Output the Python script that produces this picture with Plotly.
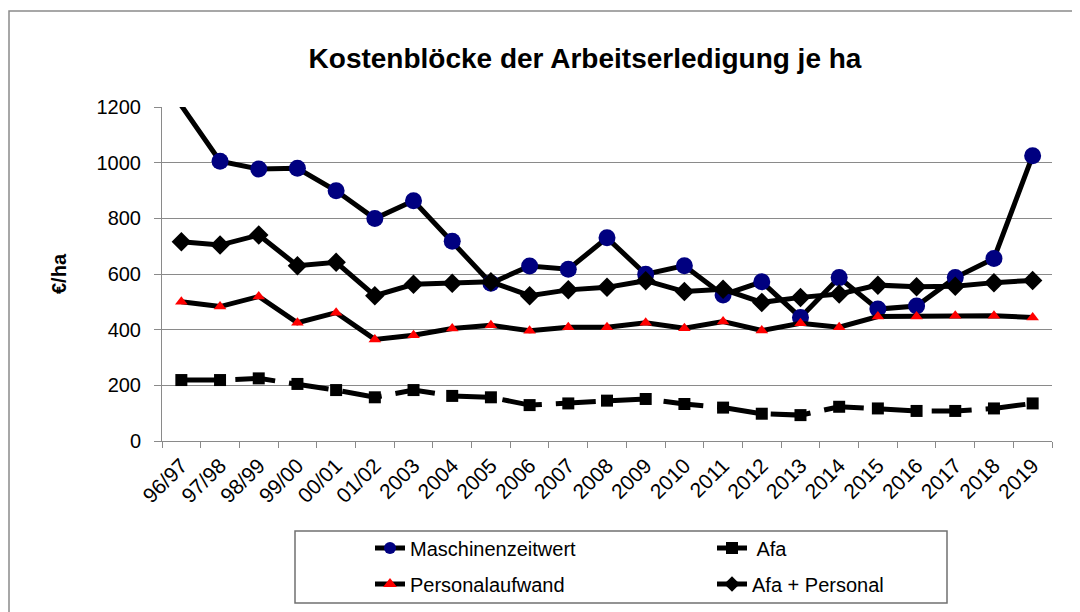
import plotly.graph_objects as go

categories = ["96/97", "97/98", "98/99", "99/00", "00/01", "01/02", "2003", "2004",
              "2005", "2006", "2007", "2008", "2009", "2010", "2011", "2012", "2013",
              "2014", "2015", "2016", "2017", "2018", "2019"]
maschinenzeitwert = [1205, 1005, 977, 980, 899, 799, 863, 718, 567, 629, 617, 730, 599,
                     630, 525, 572, 444, 587, 474, 485, 587, 656, 1025]
afa = [219, 219, 225, 205, 183, 157, 183, 162, 157, 129, 135, 145, 151, 133, 120, 98,
       93, 123, 117, 108, 108, 117, 135]
personalaufwand = [500, 483, 519, 425, 461, 365, 380, 404, 416, 396, 409, 409, 425, 405,
                   429, 397, 423, 409, 447, 447, 450, 450, 444]
afa_personal = [716, 704, 740, 630, 642, 522, 563, 567, 572, 522, 543, 552, 576, 537,
                545, 498, 516, 528, 560, 554, 556, 569, 577]
y_ticks = [0, 200, 400, 600, 800, 1000, 1200]

FONT = "Liberation Sans, Arial, sans-serif"
GRAY = "#8a8a8a"

# The page body has an 8px margin, so the figure is drawn 8px right/down.
OFF = 8
W, H = 1080 - OFF, 612 - OFF
# plot area in page pixels: x 162..1052, y 107..441
L, T = 162 - OFF, 107 - OFF
R, B = W - (1052 - OFF), H - (441 - OFF)
PW, PH = W - L - R, H - T - B


def px_x(p):
    """page pixel x -> paper coordinate"""
    return (p - OFF - L) / PW


def px_y(p):
    """page pixel y -> paper coordinate"""
    return (H - B - (p - OFF)) / PH


fig = go.Figure()

# first Maschinenzeitwert point lies above the axis range: no visible marker
m_sizes = [0] + [17] * (len(maschinenzeitwert) - 1)

fig.add_trace(go.Scatter(
    x=categories, y=maschinenzeitwert, name="Maschinenzeitwert", mode="lines+markers",
    line=dict(color="black", width=5),
    marker=dict(symbol="circle", size=m_sizes, color="#000080", opacity=1,
                line=dict(width=0)),
    legend="legend",
))
fig.add_trace(go.Scatter(
    x=categories, y=afa, name=" Afa", mode="lines+markers",
    line=dict(color="black", width=5, dash="40px,14px"),
    marker=dict(symbol="square", size=12, color="black", opacity=1, line=dict(width=0)),
    legend="legend2",
))
fig.add_trace(go.Scatter(
    x=categories, y=personalaufwand, name="Personalaufwand", mode="lines+markers",
    line=dict(color="black", width=5),
    marker=dict(symbol="triangle-up", size=11, color="#ff0000", opacity=1,
                line=dict(width=0)),
    legend="legend3",
))
fig.add_trace(go.Scatter(
    x=categories, y=afa_personal, name="Afa + Personal", mode="lines+markers",
    line=dict(color="black", width=5),
    marker=dict(symbol="diamond", size=15, color="black", opacity=1, line=dict(width=0)),
    legend="legend4",
))

legend_common = dict(
    orientation="v", xanchor="left", yanchor="middle",
    font=dict(family=FONT, size=20, color="black"),
    bgcolor="rgba(0,0,0,0)", borderwidth=0, itemsizing="constant",
)

COL1_X, COL2_X = 370, 712
ROW1_Y, ROW2_Y = 548, 584

fig.update_layout(
    width=W, height=H,
    margin=dict(l=L, r=R, t=T, b=B, autoexpand=False),
    paper_bgcolor="white", plot_bgcolor="white",
    font=dict(family=FONT, color="black"),
    title=dict(
        text="<b>Kostenblöcke der Arbeitserledigung je ha</b>",
        x=px_x(585), xref="paper", xanchor="center",
        y=1 - (58 - OFF) / H, yref="container", yanchor="middle",
        font=dict(family=FONT, size=28, color="black"),
    ),
    xaxis=dict(
        type="category", categoryorder="array", categoryarray=categories,
        range=[-0.5, len(categories) - 0.5],
        showgrid=False, showline=True, linecolor=GRAY, linewidth=1,
        ticks="outside", tickson="boundaries", ticklen=6, tickcolor=GRAY,
        tickangle=-45, tickfont=dict(family=FONT, size=21, color="black"),
        ticklabelstandoff=3,
        zeroline=False, automargin=False,
    ),
    yaxis=dict(
        range=[0, 1200], tickvals=y_ticks, showgrid=True, gridcolor=GRAY, gridwidth=1,
        showline=True, linecolor=GRAY, linewidth=1,
        ticks="outside", ticklen=7, tickcolor=GRAY, ticklabelstandoff=9,
        tickfont=dict(family=FONT, size=20, color="black"),
        zeroline=False, automargin=False,
        title=dict(text="<b>€/ha</b>", font=dict(family=FONT, size=20, color="black"),
                   standoff=24),
    ),
    legend=dict(x=px_x(COL1_X), y=px_y(ROW1_Y), **legend_common),
    legend2=dict(x=px_x(COL2_X), y=px_y(ROW1_Y), **legend_common),
    legend3=dict(x=px_x(COL1_X), y=px_y(ROW2_Y), **legend_common),
    legend4=dict(x=px_x(COL2_X), y=px_y(ROW2_Y), **legend_common),
    showlegend=True,
    shapes=[
        # outer chart border (top and left visible)
        dict(type="rect", xref="paper", yref="paper",
             x0=px_x(9), x1=px_x(1100), y0=px_y(640), y1=px_y(11),
             line=dict(color=GRAY, width=1.5), fillcolor="rgba(0,0,0,0)", layer="below"),
        # legend frame
        dict(type="rect", xref="paper", yref="paper",
             x0=px_x(295), x1=px_x(947), y0=px_y(603), y1=px_y(531),
             line=dict(color="#707070", width=1.5), fillcolor="rgba(0,0,0,0)", layer="below"),
    ],
)

fig.write_html("out.html")
